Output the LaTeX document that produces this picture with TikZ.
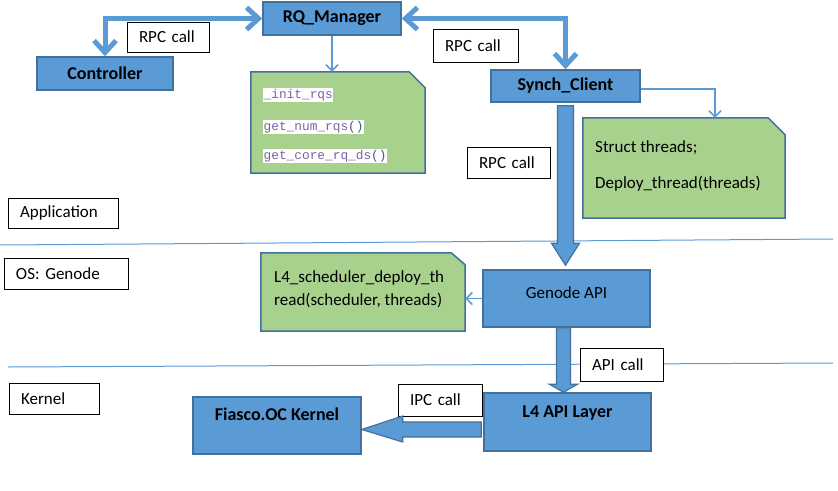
\documentclass[tikz,border=0pt]{standalone}
\usepackage{fontspec}
\setmainfont{Carlito}
\newfontfamily\codefont{Liberation Mono}
\usetikzlibrary{arrows.meta, calc}

\definecolor{boxblue}{HTML}{5B9BD5}
\definecolor{edgeblue}{HTML}{41719C}
\definecolor{notegreen}{HTML}{A9D18E}
\definecolor{codepurple}{HTML}{7E5FA6}
\definecolor{parenblue}{HTML}{3A5F8A}

\begin{document}
\begin{tikzpicture}[
    x=1pt,
    y=-1pt,
    font=\fontsize{17}{20}\selectfont,
    blk/.style={draw=edgeblue, fill=boxblue, line width=1.5pt, inner sep=0pt, font=\fontsize{18}{21}\selectfont\bfseries},
    note/.style={inner sep=0pt},
    notebody/.style={draw=edgeblue, fill=notegreen, line width=1.5pt},
    lbl/.style={draw=black, fill=white, line width=0.8pt, inner xsep=12pt, inner ysep=0pt, align=left},
    code/.style={fill=white, inner xsep=0.5pt, inner ysep=1.5pt, text=codepurple, font=\fontsize{12.8}{15}\selectfont\codefont, anchor=west},
    txt/.style={inner sep=0pt, anchor=west},
    fat/.style={draw=boxblue, line width=5pt, {Straight Barb[length=12pt,width=22pt]}-{Straight Barb[length=12pt,width=22pt]}},
    e/.style={draw=boxblue, line width=1.5pt, -{Straight Barb[length=6pt,width=12pt]}},
    blockarrow/.style={draw=edgeblue, fill=boxblue, line width=1.2pt},
    divider/.style={draw=boxblue, line width=1pt},
]
    \useasboundingbox (0,0) rectangle (838,490);

    % layer borders
    \draw[divider] (0,245) -- (833,239);
    \draw[divider] (8,367) -- (833,363);

    % boxes
    \node[blk, minimum width=138pt, minimum height=33pt] (rq) at (332,18.5) {RQ\_Manager};
    \node[blk, minimum width=136pt, minimum height=33pt] (ctrl) at (105,73.5) {Controller};
    \node[blk, minimum width=149pt, minimum height=32pt] (synch) at (565.5,86) {Synch\_Client};
    \node[blk, minimum width=167pt, minimum height=57pt, font=\fontsize{17}{20}\selectfont, text height=10pt, text depth=10pt] (genode) at (566.5,298.5) {Genode API};
    \node[blk, minimum width=167pt, minimum height=58pt, text height=10pt, text depth=20pt] (l4) at (567.5,422) {L4 API Layer};
    \node[blk, minimum width=168pt, minimum height=57pt, text height=10pt, text depth=20pt] (fiasco) at (277,425.5) {Fiasco.OC Kernel};

    % notes
    \node[note, minimum width=174pt, minimum height=101pt] (note1) at (338,122.5) {};
    \node[note, minimum width=202pt, minimum height=100pt] (note2) at (684,168) {};
    \node[note, minimum width=204pt, minimum height=78pt] (note3) at (363,292) {};
    \draw[notebody] (note1.south west) -- (note1.north west) -- ($(note1.north east)+(-16,0)$)
        -- ($(note1.north east)+(0,16)$) -- (note1.south east) -- cycle;
    \draw[notebody] (note2.south west) -- (note2.north west) -- ($(note2.north east)+(-17,0)$)
        -- ($(note2.north east)+(0,17)$) -- (note2.south east) -- cycle;
    \draw[notebody] (note3.south west) -- (note3.north west) -- ($(note3.north east)+(-14,0)$)
        -- ($(note3.north east)+(0,12)$) -- (note3.south east) -- cycle;

    \node[code] (f1) at (263,95) {\_init\_rqs};
    \node[code] (f2) at (263,127) {get\_num\_rqs{\color{parenblue}()}};
    \node[code] (f3) at (263,156) {get\_core\_rq\_ds{\color{parenblue}()}};
    \node[txt] (s1) at (595,148) {Struct threads;};
    \node[txt] (s2) at (595,184) {Deploy\_thread(threads)};
    \node[txt] (d1) at (274,278) {L4\_scheduler\_deploy\_th};
    \node[txt] (d2) at (274,300) {read(scheduler, threads)};

    % labels
    \node[lbl, text width=58pt, minimum height=30pt] (rpc1) at (168,37) {RPC call};
    \node[lbl, text width=61pt, minimum height=33pt] (rpc2) at (475.5,45.5) {RPC call};
    \node[lbl, text width=59pt, minimum height=31pt] (rpc3) at (508.5,162.5) {RPC call};
    \node[lbl, text width=59pt, minimum height=33pt] (api) at (621.5,364.5) {API call};
    \node[lbl, text width=60pt, minimum height=32pt] (ipc) at (440,400) {IPC call};
    \node[lbl, text width=86pt, minimum height=30pt] (app) at (63,213) {Application};
    \node[lbl, text width=100pt, minimum height=31pt] (os) at (66,273.5) {OS: Genode};
    \node[lbl, text width=66pt, minimum height=31pt] (kern) at (54,398.5) {Kernel};

    % calls
    \path[fat] (rq.west) -| (ctrl.north);
    \path[fat] (rq.east) -| (synch.north);
    \path[e] (rq.south) -- (rq.south |- note1.north);
    \path[e] ([yshift=-3pt]synch.east) -| ($(note2.north)+(31,0)$);
    \path[e] (genode.west) -- (genode.west -| note3.east);

    \draw[blockarrow] ($(synch.south)+(-8,3)$) -- ($(synch.south |- genode.north)+(-8,-26)$) -- ++(-6,0)
        -- ($(synch.south |- genode.north)+(0,-4)$) -- ($(synch.south |- genode.north)+(14,-26)$) -- ++(-6,0)
        -- ($(synch.south)+(8,3)$) -- cycle;
    \draw[blockarrow] ($(genode.south)+(-10,0)$) -- ($(genode.south |- l4.north)+(-10,-8)$) -- ++(-7,0)
        -- ($(genode.south |- l4.north)+(-3,0)$) -- ($(genode.south |- l4.north)+(11,-8)$) -- ++(-7,0)
        -- ($(genode.south)+(4,0)$) -- cycle;
    \draw[blockarrow] ($(l4.west)+(-2,0)$) -- ($(l4.west -| fiasco.east)+(41,0)$) -- ++(0,-6)
        -- ($(l4.west -| fiasco.east)+(0,7.5)$) -- ($(l4.west -| fiasco.east)+(41,20)$) -- ++(0,-5)
        -- ($(l4.west)+(-2,15)$) -- cycle;
\end{tikzpicture}
\end{document}
